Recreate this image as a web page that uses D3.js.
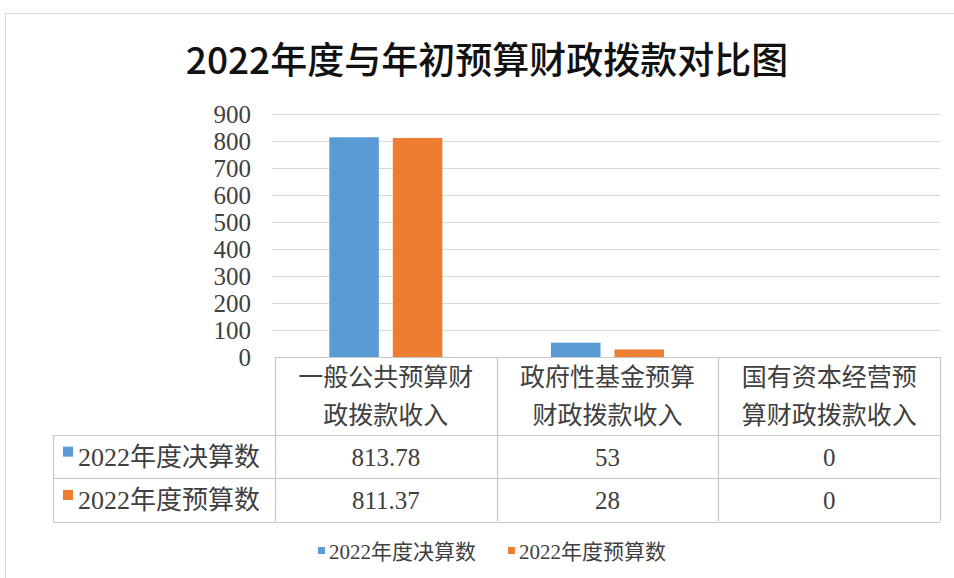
<!DOCTYPE html>
<html>
<head>
<meta charset="utf-8">
<script src="https://cdn.jsdelivr.net/npm/d3@7"></script>
<style>
  html, body { margin: 0; padding: 0; background: #fff; }
  svg { display: block; }
</style>
</head>
<body>
<svg id="chart" width="954" height="578"></svg>
<script>
// Chart data
const titleText = "2022年度与年初预算财政拨款对比图";
const categories = ["一般公共预算财政拨款收入", "政府性基金预算财政拨款收入", "国有资本经营预算财政拨款收入"];
const seriesNames = ["2022年度决算数", "2022年度预算数"];
const finalValues = [813.78, 53, 0];
const budgetValues = [811.37, 28, 0];
const yTicks = [0, 100, 200, 300, 400, 500, 600, 700, 800, 900];
const seriesColors = ["#5B9BD5", "#ED7D31"];

const seriesValues = [finalValues, budgetValues];
const rows = seriesNames.map((name, i) => ({ name, color: seriesColors[i], values: seriesValues[i] }));

const svg = d3.select("#chart");
const serif = "'Liberation Serif', 'Noto Sans CJK SC', serif";
const sans = "'Noto Sans CJK SC', 'Noto Sans', sans-serif";

// Outer chart frame
svg.append("rect")
  .attr("x", 5.5).attr("y", 13.5)
  .attr("width", 980).attr("height", 600)
  .attr("fill", "#fff").attr("stroke", "#d9d9d9").attr("stroke-width", 1);

// Title
svg.append("text")
  .attr("x", 487).attr("y", 74)
  .attr("text-anchor", "middle")
  .attr("font-family", sans)
  .attr("font-size", 37)
  .attr("font-weight", 500)
  .attr("fill", "#111")
  .text(titleText);

// Plot geometry
const plot = { left: 275, right: 940, top: 114, bottom: 357 };
const table = { left: 53, headerBottom: 435, rowHeight: 43.3 };

const x0 = d3.scaleBand().domain(categories).range([plot.left, plot.right]).padding(0);
const bw = x0.bandwidth();
const x1 = d3.scaleBand().domain(seriesNames)
  .range([bw * 0.245, bw * 0.755]).paddingInner(0.22).paddingOuter(0);
const y = d3.scaleLinear().domain([0, 900]).range([plot.bottom, plot.top]);

// Horizontal gridlines
svg.append("g")
  .selectAll("line")
  .data(yTicks.filter(d => d > 0))
  .join("line")
  .attr("x1", plot.left - 3).attr("x2", plot.right)
  .attr("y1", d => Math.round(y(d)) + 0.5).attr("y2", d => Math.round(y(d)) + 0.5)
  .attr("stroke", "#d9d9d9").attr("stroke-width", 1.2);

// Y axis labels
const yAxis = d3.axisLeft(y).tickValues(yTicks).tickSize(0).tickPadding(0).tickFormat(d3.format("d"));
const gy = svg.append("g")
  .attr("transform", `translate(${plot.left - 24},0)`)
  .call(yAxis);
gy.select(".domain").remove();
gy.selectAll("text")
  .attr("font-family", serif)
  .attr("font-size", 25)
  .attr("fill", "#404040")
  .attr("dy", "0.35em");

// Bars
const groups = svg.append("g")
  .selectAll("g")
  .data(categories)
  .join("g")
  .attr("transform", d => `translate(${x0(d)},0)`);

groups.selectAll("rect")
  .data((c, ci) => rows.map(r => ({ key: r.name, color: r.color, value: r.values[ci] })))
  .join("rect")
  .attr("x", d => x1(d.key))
  .attr("width", x1.bandwidth())
  .attr("y", d => y(d.value))
  .attr("height", d => y(0) - y(d.value))
  .attr("fill", d => d.color);

// Data table below the plot
const tableBottom = table.headerBottom + rows.length * table.rowHeight;
const grid = svg.append("g").attr("stroke", "#c8c8c8").attr("stroke-width", 1.2).attr("fill", "none");

// Top line of the table (category axis)
grid.append("line")
  .attr("x1", plot.left).attr("x2", plot.right)
  .attr("y1", plot.bottom + 0.5).attr("y2", plot.bottom + 0.5);
// Row separators
[table.headerBottom, ...rows.map((r, i) => table.headerBottom + (i + 1) * table.rowHeight)].forEach(yy => {
  grid.append("line")
    .attr("x1", table.left).attr("x2", plot.right)
    .attr("y1", Math.round(yy) + 0.5).attr("y2", Math.round(yy) + 0.5);
});
// Vertical separators
grid.append("line")
  .attr("x1", table.left + 0.5).attr("x2", table.left + 0.5)
  .attr("y1", table.headerBottom).attr("y2", tableBottom);
[plot.left, ...categories.map(c => x0(c) + bw)].forEach(xx => {
  grid.append("line")
    .attr("x1", Math.round(xx) + 0.5).attr("x2", Math.round(xx) + 0.5)
    .attr("y1", plot.bottom).attr("y2", tableBottom);
});

// Category header text, wrapped at seven characters per line
const header = svg.append("g")
  .attr("font-family", serif).attr("font-size", 25).attr("fill", "#404040")
  .attr("text-anchor", "middle");
categories.forEach(c => {
  const lines = [c.slice(0, 7), c.slice(7)];
  lines.forEach((ln, li) => {
    header.append("text")
      .attr("x", x0(c) + bw / 2)
      .attr("y", 386 + li * 38)
      .text(ln);
  });
});

// Table rows: series key, name and values
rows.forEach((r, ri) => {
  const cy = table.headerBottom + (ri + 0.5) * table.rowHeight;
  svg.append("rect")
    .attr("x", 63).attr("y", cy - 10)
    .attr("width", 10).attr("height", 10)
    .attr("fill", r.color);
  svg.append("text")
    .attr("x", 78).attr("y", cy + 9)
    .attr("font-family", serif).attr("font-size", 26).attr("fill", "#404040")
    .text(r.name);
  categories.forEach((c, ci) => {
    svg.append("text")
      .attr("x", x0(c) + bw / 2).attr("y", cy + 9)
      .attr("text-anchor", "middle")
      .attr("font-family", serif).attr("font-size", 25).attr("fill", "#404040")
      .text(String(r.values[ci]));
  });
});

// Legend
const legendItems = [{ x: 318 }, { x: 508 }];
rows.forEach((r, i) => {
  const lx = legendItems[i].x;
  svg.append("rect")
    .attr("x", lx).attr("y", 547)
    .attr("width", 7).attr("height", 7)
    .attr("fill", r.color);
  svg.append("text")
    .attr("x", lx + 11).attr("y", 559)
    .attr("font-family", serif).attr("font-size", 21).attr("fill", "#404040")
    .text(r.name);
});
</script>
</body>
</html>
